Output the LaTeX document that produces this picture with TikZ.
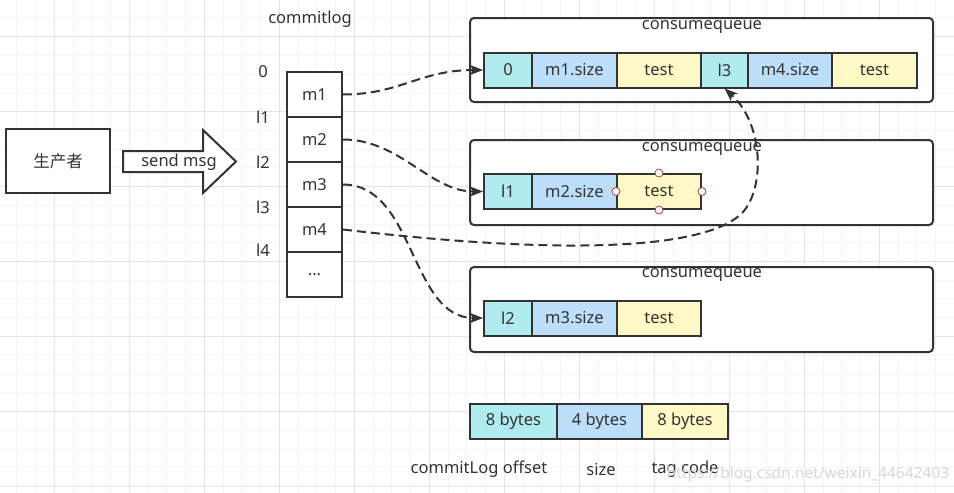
\documentclass[tikz,border=0pt]{standalone}
\usepackage{fontspec}
\setmainfont{Noto Sans}
\newfontfamily\cjk{Noto Sans CJK SC}
\usetikzlibrary{arrows.meta}
\definecolor{linedark}{RGB}{51, 51, 51}
\definecolor{offsetcyan}{RGB}{176, 235, 240}
\definecolor{sizeblue}{RGB}{189, 222, 248}
\definecolor{tagyellow}{RGB}{255, 249, 200}
\definecolor{gridminor}{RGB}{244, 244, 244}
\definecolor{gridmajor}{RGB}{228, 228, 228}
\definecolor{handlered}{RGB}{170, 60, 60}
\definecolor{markgray}{RGB}{215, 215, 215}

\tikzset{
  cell/.style={draw=linedark, line width=2pt, inner sep=0pt, minimum height=35pt, text=linedark},
  logcell/.style={draw=linedark, line width=2pt, inner sep=0pt, minimum width=55pt, minimum height=45pt, text=linedark},
  queuebox/.style={draw=linedark, line width=2pt, rounded corners=4pt},
  plaintext/.style={text=linedark, inner sep=0pt},
  link/.style={draw=linedark, line width=2pt, dash pattern=on 9pt off 5pt, -{Stealth[length=13pt,width=10pt,inset=3pt]}},
  handle/.style={circle, draw=handlered, fill=white, line width=0.8pt, inner sep=0pt, minimum size=8pt},
}

\begin{document}
\begin{tikzpicture}[x=1pt, y=-1pt, font=\fontsize{16.5}{19}\selectfont]
        \useasboundingbox (0,0) rectangle (954,493);
        \fill[white] (0,0) rectangle (954,493);
        % background grid
        \foreach \i in {0,...,51} \draw[gridminor, line width=1pt] ({-1.95+18.75*\i},0) -- ({-1.95+18.75*\i},493);
        \foreach \j in {0,...,26} \draw[gridminor, line width=1pt] (0,{-0.8+18.75*\j}) -- (954,{-0.8+18.75*\j});
        \foreach \i in {0,...,12} \draw[gridmajor, line width=1pt] ({54.3+75*\i},0) -- ({54.3+75*\i},493);
        \foreach \j in {0,...,6} \draw[gridmajor, line width=1pt] (0,{36.7+75*\j}) -- (954,{36.7+75*\j});

        % producer and send arrow
        \node[draw=linedark, line width=2pt, fill=white, minimum width=104pt, minimum height=64pt, text=linedark] (producer) at (58,161) {\cjk 生产者};
        \draw[linedark, line width=2pt, fill=white] (123,151) -- (203,151) -- (203,130) -- (236,161.5) -- (203,193) -- (203,172) -- (123,172) -- cycle;
        \node[plaintext] (sendmsg) at (179,162) {send msg};

        % commitlog
        \node[plaintext] (logtitle) at (310,19) {commitlog};
        \node[logcell, fill=white] (m1) at (314.5,94.5) {m1};
        \node[logcell, fill=white] (m2) at (314.5,139.5) {m2};
        \node[logcell, fill=white] (m3) at (314.5,184.5) {m3};
        \node[logcell, fill=white] (m4) at (314.5,229.5) {m4};
        \node[logcell, fill=white] (mdots) at (314.5,274.5) {...};
        \node[plaintext] (off0) at (263,72) {0};
        \node[plaintext] (off1) at (263,117) {l1};
        \node[plaintext] (off2) at (263,162) {l2};
        \node[plaintext] (off3) at (263,207) {l3};
        \node[plaintext] (off4) at (263,250) {l4};

        % consumequeue 1
        \draw[queuebox, fill=white] (470,18) rectangle (933,102);
        \node[plaintext] (title1) at (702,27) {consumequeue};
        \node[cell, fill=offsetcyan, minimum width=48pt] (q1a) at (508,70) {0};
        \node[cell, fill=sizeblue, minimum width=85pt] (q1b) at (574.5,70) {m1.size};
        \node[cell, fill=tagyellow, minimum width=84pt] (q1c) at (659,70) {test};
        \node[cell, fill=offsetcyan, minimum width=47pt] (q1d) at (724.5,70) {l3};
        \node[cell, fill=sizeblue, minimum width=84pt] (q1e) at (790,70) {m4.size};
        \node[cell, fill=tagyellow, minimum width=85pt] (q1f) at (874.5,70) {test};

        % consumequeue 2
        \draw[queuebox, fill=white] (470,140) rectangle (933,225);
        \node[plaintext] (title2) at (702,149) {consumequeue};
        \node[cell, fill=offsetcyan, minimum width=48pt] (q2a) at (508,191.5) {l1};
        \node[cell, fill=sizeblue, minimum width=85pt] (q2b) at (574.5,191.5) {m2.size};
        \node[cell, fill=tagyellow, minimum width=84pt] (q2c) at (659,191.5) {test};

        % consumequeue 3
        \draw[queuebox, fill=white] (470,267) rectangle (933,352);
        \node[plaintext] (title3) at (702,275) {consumequeue};
        \node[cell, fill=offsetcyan, minimum width=48pt] (q3a) at (508,318) {l2};
        \node[cell, fill=sizeblue, minimum width=85pt] (q3b) at (574.5,318) {m3.size};
        \node[cell, fill=tagyellow, minimum width=84pt] (q3c) at (659,318) {test};

        % links from commitlog to consumequeue
        \draw[link] (m1.east) .. controls (400,94.5) and (420,70) .. (q1a.west);
        \draw[link] (m2.east) .. controls (400,139.5) and (430,191.5) .. (q2a.west);
        \draw[link] (m3.east) .. controls (415,184.5) and (410,318) .. (q3a.west);
        \draw[link] (m4.east) .. controls (560,255) and (700,250) .. (740,215) .. controls (765,193) and (765,125) .. (q1d.south);

        % selection handles
        \node[handle] (hn) at (q2c.north) {};
        \node[handle] (hs) at (q2c.south) {};
        \node[handle] (hw) at (q2c.west) {};
        \node[handle] (he) at (q2c.east) {};

        % legend
        \node[cell, fill=offsetcyan, minimum width=87pt] (lga) at (513.5,421) {8 bytes};
        \node[cell, fill=sizeblue, minimum width=85pt] (lgb) at (599.5,421) {4 bytes};
        \node[cell, fill=tagyellow, minimum width=86pt] (lgc) at (685,421) {8 bytes};
        \node[plaintext] (lgta) at (479,469) {commitLog offset};
        \node[plaintext] (lgtb) at (601,469) {size};
        \node[plaintext] (lgtc) at (685,469) {tag code};
        \node[text=markgray, inner sep=0pt, font=\fontsize{15.5}{18}\selectfont] (mark) at (808,474) {https://blog.csdn.net/weixin\_44642403};
    \end{tikzpicture}
\end{document}
